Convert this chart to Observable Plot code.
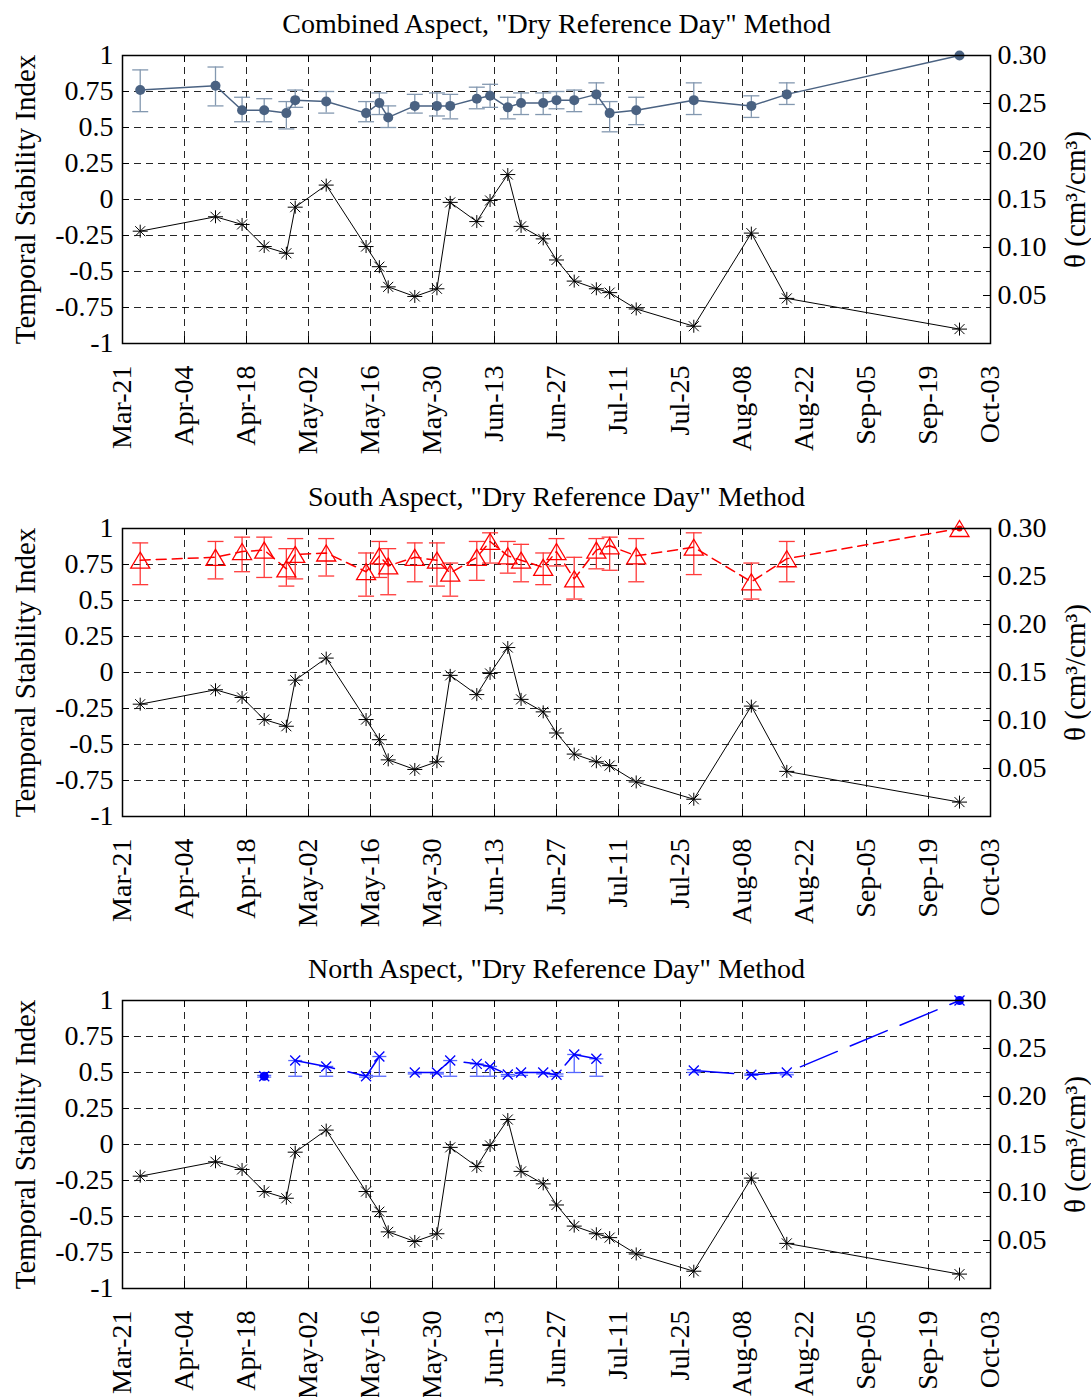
<!DOCTYPE html>
<html>
<head>
<meta charset="utf-8">
<script src="https://cdn.jsdelivr.net/npm/d3@7"></script>
<script src="https://cdn.jsdelivr.net/npm/@observablehq/plot@0.6"></script>
<style>
  html, body { margin: 0; padding: 0; background: #fff; }
  #chart svg { display: block; }
</style>
</head>
<body>
<div id="chart"></div>
<script>
// ---------------- data ----------------
const dates = ["2007-03-25","2007-04-11","2007-04-17","2007-04-22","2007-04-27","2007-04-29","2007-05-06",
  "2007-05-15","2007-05-18","2007-05-20","2007-05-26","2007-05-31","2007-06-03","2007-06-09","2007-06-12",
  "2007-06-16","2007-06-19","2007-06-24","2007-06-27","2007-07-01","2007-07-06","2007-07-09","2007-07-15",
  "2007-07-28","2007-08-10","2007-08-18","2007-09-26"];

// soil moisture theta (cm3/cm3), right axis
const theta = [0.117,0.132,0.124,0.101,0.094,0.142,0.165,0.101,0.080,0.059,0.049,0.057,0.147,0.127,0.149,
  0.176,0.122,0.109,0.087,0.065,0.057,0.053,0.036,0.018,0.115,0.047,0.015];

// Combined aspect TSI
const combinedTSI = [0.76,0.79,0.62,0.62,0.60,0.69,0.68,0.60,0.67,0.57,0.65,0.65,0.65,0.70,0.72,0.64,0.67,0.67,0.69,0.69,0.73,0.60,0.62,0.69,0.65,0.73,1.00];
const combinedHi  = [0.90,0.92,0.71,0.70,0.68,0.76,0.75,0.68,0.74,0.65,0.73,0.74,0.73,0.78,0.80,0.71,0.74,0.74,0.75,0.76,0.81,0.68,0.71,0.81,0.72,0.81,null];
const combinedLo  = [0.61,0.65,0.54,0.54,0.49,0.64,0.60,0.54,0.59,0.50,0.60,0.58,0.56,0.63,0.64,0.56,0.59,0.59,0.63,0.61,0.66,0.47,0.52,0.59,0.57,0.66,null];

// South aspect TSI
const southTSI = [0.78,0.80,0.84,0.85,0.72,0.82,0.83,0.70,0.81,0.74,0.80,0.78,0.69,0.80,0.91,0.81,0.78,0.73,0.84,0.65,0.85,0.88,0.81,0.87,0.63,0.79,1.00];
const southHi  = [0.90,0.91,0.94,0.94,0.86,0.93,0.93,0.83,0.91,0.86,0.90,0.90,0.76,0.91,0.97,0.91,0.89,0.83,0.93,0.80,0.93,0.94,0.93,0.97,0.76,0.91,null];
const southLo  = [0.61,0.65,0.70,0.66,0.60,0.65,0.67,0.53,0.66,0.54,0.63,0.60,0.53,0.64,0.76,0.69,0.63,0.61,0.74,0.51,0.72,0.71,0.63,0.68,0.51,0.63,null];

// North aspect TSI (null = no value)
const northTSI = [null,null,null,0.474,null,0.583,0.542,0.474,0.611,null,0.50,0.50,0.583,0.56,0.542,0.486,0.50,0.50,0.484,0.625,0.595,null,null,0.514,0.484,0.50,1.00];
const northHi  = [null,null,null,0.48,null,0.583,0.542,0.48,0.611,null,0.50,0.50,0.583,0.56,0.542,0.486,0.50,0.50,0.49,0.625,0.595,null,null,0.52,0.49,0.50,null];
const northLo  = [null,null,null,0.468,null,0.474,0.474,0.468,0.474,null,0.49,0.49,0.474,0.474,0.474,0.474,0.48,0.49,0.474,0.50,0.474,null,null,0.50,0.48,0.484,null];
const northFilled = ["2007-04-22","2007-09-26"];
const southFilled = ["2007-09-26"];

const titles = ['Combined Aspect, "Dry Reference Day" Method',
                'South Aspect, "Dry Reference Day" Method',
                'North Aspect, "Dry Reference Day" Method'];
const yLabel = "Temporal Stability Index";
const rLabel = "θ (cm³/cm³)";

const xTickDates = ["2007-03-21","2007-04-04","2007-04-18","2007-05-02","2007-05-16","2007-05-30","2007-06-13",
  "2007-06-27","2007-07-11","2007-07-25","2007-08-08","2007-08-22","2007-09-05","2007-09-19","2007-10-03"];
const yTicks = [-1,-0.75,-0.5,-0.25,0,0.25,0.5,0.75,1];
const thetaTicks = [0.05,0.10,0.15,0.20,0.25,0.30];
const thetaMax = 0.30; // right axis spans 0 .. 0.30 over TSI -1 .. 1

// ---------------- drawing ----------------
const font = "'Liberation Serif','Times New Roman',Times,serif";
const W = 1091, ML = 122, MR = 101, MT = 55, FH = 288;
const FW = W - ML - MR;
const xTicks = xTickDates.map(d => new Date(d));
const xDomain = [xTicks[0], xTicks[xTicks.length - 1]];
const toLeft = t => t / (thetaMax / 2) - 1;
const rTicks = thetaTicks.map(toLeft);
const fromLeft = v => ((v + 1) * (thetaMax / 2)).toFixed(2);

const asterisk = {draw(c) {
  c.moveTo(-7.5, 0); c.lineTo(7.5, 0);
  c.moveTo(0, -6.5); c.lineTo(0, 6.5);
  c.moveTo(-5, -5); c.lineTo(5, 5);
  c.moveTo(-5, 5); c.lineTo(5, -5);
}};
const times = {draw(c) {
  c.moveTo(-5, -5); c.lineTo(5, 5);
  c.moveTo(-5, 5); c.lineTo(5, -5);
}};
const triangle = {draw(c) {
  c.moveTo(0, -8); c.lineTo(9.5, 8); c.lineTo(-9.5, 8); c.closePath();
}};
const capOf = w => ({draw(c) { c.moveTo(-w, 0); c.lineTo(w, 0); }});

function panel(cfg) {
  const H = cfg.height;
  const rows = dates.map((d, i) => ({key: d, date: new Date(d), theta: theta[i], v: cfg.v[i], hi: cfg.hi[i], lo: cfg.lo[i]}));
  const pts = rows.filter(r => r.v != null);
  const bars = rows.filter(r => r.hi != null && r.v != null);
  const filled = rows.filter(r => r.v != null && cfg.filled.includes(r.key));
  const grid = {stroke: "#000", strokeOpacity: 0.85, strokeWidth: 1, strokeDasharray: "7,5"};
  const marks = [
    Plot.gridX(xTicks, grid),
    Plot.gridY(yTicks, grid),
    Plot.tickY(yTicks, {y: d => d, insetRight: FW - 7, stroke: "#000"}),
    Plot.tickY(rTicks, {y: d => d, insetLeft: FW - 7, stroke: "#000"}),
    Plot.tickX(xTicks, {x: d => d, insetTop: FH - 7, stroke: "#000"}),
    Plot.tickX(xTicks, {x: d => d, insetBottom: FH - 7, stroke: "#000"}),
    // soil moisture on the right-hand axis
    Plot.line(rows, {x: "date", y: r => toLeft(r.theta), stroke: "#000", strokeWidth: 1}),
    Plot.dot(rows, {x: "date", y: r => toLeft(r.theta), symbol: asterisk, stroke: "#000", strokeWidth: 1, fill: "none"}),
    // TSI error bars
    Plot.ruleX(bars, {x: "date", y1: "lo", y2: "hi", stroke: cfg.barColor, strokeWidth: 1.3}),
    Plot.dot(bars, {x: "date", y: "hi", symbol: capOf(cfg.capW), stroke: cfg.barColor, strokeWidth: 1.3, fill: "none"}),
    Plot.dot(bars, {x: "date", y: "lo", symbol: capOf(cfg.capW), stroke: cfg.barColor, strokeWidth: 1.3, fill: "none"}),
    // TSI series
    Plot.line(rows, {x: "date", y: "v", stroke: cfg.color, strokeWidth: 1.5, strokeDasharray: cfg.dash}),
    cfg.symbol === "dot"
      ? Plot.dot(pts, {x: "date", y: "v", r: 5, fill: cfg.color, stroke: "none"})
      : Plot.dot(pts, {x: "date", y: "v", symbol: cfg.symbol, stroke: cfg.color, strokeWidth: 1.3, fill: "none"}),
    Plot.dot(filled, {x: "date", y: "v", r: cfg.filledR, fill: cfg.color, stroke: "none"}),
    Plot.frame({stroke: "#000", strokeWidth: 1.5}),
    Plot.axisY(yTicks, {anchor: "left", tickSize: 0, tickPadding: 9, tickFormat: d => String(d), label: null, fontSize: 28, fill: "#000"}),
    Plot.axisY(rTicks, {anchor: "right", tickSize: 0, tickPadding: 7, tickFormat: fromLeft, label: null, fontSize: 28, fill: "#000"}),
    Plot.axisX(xTicks, {anchor: "bottom", tickSize: 0, tickPadding: 22, tickRotate: -90, tickFormat: d3.utcFormat("%b-%d"), label: null, fontSize: 28, fill: "#000"}),
    Plot.text([cfg.title], {text: d => d, frameAnchor: "top", dy: -31, lineAnchor: "middle", fontSize: 28, fill: "#000"}),
    Plot.text([yLabel], {text: d => d, frameAnchor: "left", dx: -97, rotate: -90, textAnchor: "middle", lineAnchor: "middle", fontSize: 29, fill: "#000"}),
    Plot.text([rLabel], {text: d => d, frameAnchor: "right", dx: 85, rotate: -90, textAnchor: "middle", lineAnchor: "middle", fontSize: 29, fill: "#000"})
  ];
  return Plot.plot({
    width: W, height: H,
    marginLeft: ML, marginRight: MR, marginTop: MT, marginBottom: H - MT - FH,
    style: {fontFamily: font, fontSize: "28px", background: "#fff", color: "#000", overflow: "visible"},
    x: {type: "utc", domain: xDomain},
    y: {domain: [-1, 1]},
    marks
  });
}

const chart = document.getElementById("chart");
chart.append(panel({height: 473, title: titles[0], v: combinedTSI, hi: combinedHi, lo: combinedLo,
  color: "#4a6282", barColor: "#8398b0", dash: null, symbol: "dot", capW: 8, filled: [], filledR: 5}));
chart.append(panel({height: 472, title: titles[1], v: southTSI, hi: southHi, lo: southLo,
  color: "#ff0000", barColor: "#ff3a3a", dash: "10,6", symbol: triangle, capW: 8, filled: southFilled, filledR: 3}));
chart.append(panel({height: 452, title: titles[2], v: northTSI, hi: northHi, lo: northLo,
  color: "#0000ff", barColor: "#5566ff", dash: "40,14", symbol: times, capW: 7, filled: northFilled, filledR: 4.5}));
</script>
</body>
</html>
